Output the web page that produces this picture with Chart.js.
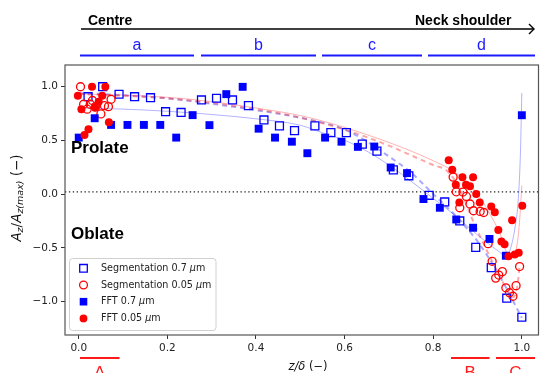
<!DOCTYPE html>
<html>
<head>
<meta charset="utf-8">
<script src="https://cdn.jsdelivr.net/npm/chart.js@4.4.0/dist/chart.umd.min.js"></script>
<style>
html, body { margin: 0; padding: 0; background: #fff; }
</style>
</head>
<body>
<canvas id="profile" width="546" height="373"></canvas>
<script>
// points as [z/delta, Az/Az(max)]
const segCoarse = [[0.021,0.905],[0.054,0.998],[0.091,0.928],[0.126,0.905],[0.162,0.896],[0.196,0.766],[0.231,0.759],
  [0.277,0.875],[0.311,0.891],[0.347,0.875],[0.383,0.822],[0.418,0.689],[0.453,0.634],[0.487,0.590],[0.533,0.634],
  [0.569,0.571],[0.604,0.571],[0.640,0.464],[0.673,0.399],[0.710,0.225],[0.745,0.170],[0.791,-0.011],[0.826,-0.073],
  [0.860,-0.250],[0.896,-0.495],[0.931,-0.684],[0.966,-0.968],[1.000,-1.145]];
const segFine = [[0.004,0.998],[0.011,0.835],[0.019,0.789],[0.026,0.835],[0.031,0.870],[0.038,0.813],[0.050,0.745],
  [0.058,0.822],[0.067,0.813],[0.073,0.881],
  [0.845,0.158],[0.852,0.021],[0.860,-0.127],[0.867,0.019],[0.875,-0.022],[0.883,-0.092],[0.891,-0.155],[0.906,-0.161],
  [0.914,-0.171],[0.924,-0.461],[0.933,-0.625],[0.941,-0.781],[0.948,-0.753],[0.956,-0.721],[0.964,-0.871],
  [0.972,-0.917],[0.980,-0.950],[0.987,-0.851],[0.995,-0.674]];
const fftCoarse = [[0.000,0.525],[0.036,0.705],[0.073,0.643],[0.110,0.643],[0.147,0.643],[0.184,0.643],[0.220,0.525],
  [0.257,0.734],[0.295,0.641],[0.333,0.929],[0.370,0.997],[0.406,0.608],[0.443,0.525],[0.481,0.487],[0.516,0.380],
  [0.556,0.525],[0.593,0.487],[0.630,0.439],[0.667,0.442],[0.704,0.247],[0.741,0.195],[0.778,-0.046],[0.815,-0.127],
  [0.852,-0.236],[0.890,-0.313],[0.927,-0.417],[0.964,-0.573],[1.000,0.733]];
const fftFine = [[-0.002,0.915],[0.006,0.789],[0.013,0.550],[0.022,0.603],[0.030,0.998],[0.037,0.803],[0.045,0.859],
  [0.053,0.915],[0.060,0.998],[0.068,0.668],
  [0.835,0.314],[0.843,0.226],[0.851,0.086],[0.859,-0.078],[0.866,0.156],[0.874,0.086],[0.883,0.072],[0.890,0.156],
  [0.897,0.000],[0.905,-0.078],[0.931,-0.115],[0.939,-0.169],[0.947,-0.334],[0.954,-0.440],[0.961,-0.466],
  [0.970,-0.577],[0.978,-0.243],[0.984,-0.561],[0.993,-0.545],[1.001,-0.109]];

// fitted curves
const fitFftCoarse = [[0,0.80],[0.1,0.79],[0.2,0.77],[0.3,0.74],[0.4,0.70],[0.5,0.64],[0.55,0.57],[0.6,0.50],[0.65,0.40],
  [0.7,0.27],[0.75,0.12],[0.8,-0.04],[0.85,-0.20],[0.9,-0.38],[0.95,-0.54],[0.965,-0.58],[0.975,-0.50],[0.985,-0.30],
  [0.992,-0.05],[0.997,0.40],[1.0,0.94]];
const fitSegCoarse = [[0,0.94],[0.1,0.92],[0.2,0.89],[0.3,0.84],[0.4,0.78],[0.5,0.71],[0.6,0.60],[0.65,0.49],[0.7,0.35],
  [0.75,0.20],[0.8,0.00],[0.85,-0.20],[0.9,-0.44],[0.95,-0.76],[1.0,-1.15]];
const fitFftFine = [[0,0.93],[0.1,0.92],[0.2,0.90],[0.3,0.86],[0.4,0.80],[0.5,0.73],[0.6,0.62],[0.7,0.48],[0.75,0.40],
  [0.8,0.31],[0.85,0.20],[0.9,0.00],[0.93,-0.20],[0.95,-0.36],[0.97,-0.57],[0.98,-0.58],[0.99,-0.45],[0.995,-0.25],[1.0,0.08]];
const fitSegFine = [[0,0.93],[0.2,0.89],[0.4,0.79],[0.5,0.71],[0.6,0.60],[0.7,0.45],[0.75,0.36],[0.8,0.27],[0.83,0.22],
  [0.86,0.05],[0.89,-0.25],[0.93,-0.60],[0.95,-0.76],[0.97,-0.92],[0.98,-0.96],[0.99,-0.85],[0.995,-0.67]];

const xTicks = [0, 0.2, 0.4, 0.6, 0.8, 1.0];
const yTicks = [-1.0, -0.5, 0, 0.5, 1.0];
const refLevel = 0.02;

const BLUE = '#0000ff', RED = '#ff0000';
const pts = arr => arr.map(p => ({x: p[0], y: p[1]}));
const fmt = v => (v < 0 ? '\u2212' : '') + Math.abs(v).toFixed(1);

function marks(label, arr, color, style, filled, order) {
  return {
    label: label, data: pts(arr), order: order,
    pointStyle: style,
    pointRadius: style === 'rect' ? 5.6 : 4,
    borderColor: color,
    backgroundColor: filled ? color : 'rgba(0,0,0,0)',
    borderWidth: filled ? 0 : 1.3,
    showLine: false
  };
}
function fit(arr, color, dash, width, order) {
  return {
    label: '', data: pts(arr), order: order, showLine: true,
    pointRadius: 0, borderColor: color, borderWidth: width, borderDash: dash,
    cubicInterpolationMode: 'monotone', fill: false
  };
}

const legendItems = [
  {text: 'Segmentation 0.7 ', color: BLUE, style: 'rect', filled: false},
  {text: 'Segmentation 0.05 ', color: RED, style: 'circle', filled: false},
  {text: 'FFT 0.7 ', color: BLUE, style: 'rect', filled: true},
  {text: 'FFT 0.05 ', color: RED, style: 'circle', filled: true}
];

function rich(ctx, parts, x, y) {
  // parts: [text, font, dy]; centred on x
  let w = 0;
  parts.forEach(p => { ctx.font = p[1]; w += ctx.measureText(p[0]).width; });
  let cx = x - w / 2;
  parts.forEach(p => {
    ctx.font = p[1];
    ctx.fillText(p[0], cx, y + (p[2] || 0));
    cx += ctx.measureText(p[0]).width;
  });
}

function marker(ctx, it, x, y) {
  ctx.save();
  ctx.strokeStyle = it.color; ctx.fillStyle = it.color; ctx.lineWidth = 1.3;
  ctx.beginPath();
  if (it.style === 'rect') ctx.rect(x - 3.8, y - 3.8, 7.6, 7.6);
  else ctx.arc(x, y, 3.9, 0, Math.PI * 2);
  if (it.filled) ctx.fill(); else ctx.stroke();
  ctx.restore();
}

const decor = {
  id: 'decor',
  beforeDatasetsDraw(chart) {
    const ctx = chart.ctx, a = chart.chartArea, ys = chart.scales.y;
    const py = ys.getPixelForValue(refLevel);
    ctx.save();
    ctx.strokeStyle = '#222'; ctx.lineWidth = 1.2; ctx.setLineDash([1.3, 2.6]);
    ctx.beginPath(); ctx.moveTo(a.left, py); ctx.lineTo(a.right, py); ctx.stroke();
    ctx.restore();
  },
  afterDraw(chart) {
    const ctx = chart.ctx, a = chart.chartArea;
    ctx.save();
    // frame
    ctx.strokeStyle = '#555'; ctx.lineWidth = 1.2;
    ctx.strokeRect(a.left, a.top, a.right - a.left - 0.6, a.bottom - a.top);

    // region labels
    ctx.fillStyle = '#000'; ctx.textBaseline = 'alphabetic';
    ctx.font = 'bold 17px "Liberation Sans"';
    ctx.textAlign = 'left';
    ctx.fillText('Prolate', 71, 153);
    ctx.fillText('Oblate', 71, 239);

    // top arrow
    ctx.font = 'bold 14px "Liberation Sans"';
    ctx.fillText('Centre', 88, 25);
    ctx.fillText('Neck shoulder', 415, 25);
    ctx.strokeStyle = '#000'; ctx.lineWidth = 1.4;
    ctx.beginPath(); ctx.moveTo(81, 29); ctx.lineTo(534, 29); ctx.stroke();
    ctx.beginPath(); ctx.moveTo(529, 24); ctx.lineTo(534, 29); ctx.lineTo(529, 34); ctx.stroke();

    // blue bands
    ctx.strokeStyle = '#1a1aff'; ctx.fillStyle = '#1a1aff'; ctx.lineWidth = 2;
    ctx.font = '16px "Liberation Sans"'; ctx.textAlign = 'center';
    [[80, 194, 'a'], [201, 316, 'b'], [322, 422, 'c'], [428, 535, 'd']].forEach(s => {
      ctx.beginPath(); ctx.moveTo(s[0], 55.5); ctx.lineTo(s[1], 55.5); ctx.stroke();
      ctx.fillText(s[2], (s[0] + s[1]) / 2, 50);
    });

    // red bands
    ctx.strokeStyle = '#ff1a1a'; ctx.fillStyle = '#ff1a1a';
    ctx.font = '17px "Liberation Sans"';
    [[80, 119.5, 'A'], [451, 489.5, 'B'], [496, 535, 'C']].forEach(s => {
      ctx.beginPath(); ctx.moveTo(s[0], 358); ctx.lineTo(s[1], 358); ctx.stroke();
      ctx.fillText(s[2], (s[0] + s[1]) / 2, 378);
    });

    // axis titles
    ctx.fillStyle = '#111'; ctx.textAlign = 'left'; ctx.textBaseline = 'middle';
    const reg = '11.5px "DejaVu Sans"', ita = 'italic 11.5px "DejaVu Sans"';
    rich(ctx, [['z/\u03b4', ita], [' (\u2212)', reg]], 308, 367);
    const yreg = '13.5px "DejaVu Sans"', yita = 'italic 13.5px "DejaVu Sans"';
    const subI = 'italic 9.5px "DejaVu Sans"';
    ctx.translate(17, 198); ctx.rotate(-Math.PI / 2);
    rich(ctx, [['A', yita], ['z', subI, 3.5], ['/', yreg], ['A', yita], ['z(max)', subI, 3.5], [' (\u2212)', yreg]], 0, 0);
    ctx.setTransform(1, 0, 0, 1, 0, 0);

    // legend
    ctx.fillStyle = 'rgba(255,255,255,0.85)'; ctx.strokeStyle = '#d0d0d0'; ctx.lineWidth = 1;
    ctx.beginPath(); ctx.roundRect(69.5, 258.5, 146.5, 72, 3); ctx.fill(); ctx.stroke();
    ctx.textBaseline = 'middle'; ctx.fillStyle = '#222';
    legendItems.forEach((it, i) => {
      const y = 268.3 + i * 16.7;
      marker(ctx, it, 83.5, y);
      ctx.font = '9.6px "DejaVu Sans"';
      ctx.fillText(it.text, 101, y);
      const w = ctx.measureText(it.text).width;
      ctx.font = 'italic 9.6px "DejaVu Sans"';
      ctx.fillText('\u03bc', 101 + w, y);
      const w2 = ctx.measureText('\u03bc').width;
      ctx.font = '9.6px "DejaVu Sans"';
      ctx.fillText('m', 101 + w + w2, y);
    });
    ctx.restore();
  }
};

const tickFont = {family: 'DejaVu Sans', size: 10.5};

new Chart(document.getElementById('profile'), {
  type: 'scatter',
  data: {
    datasets: [
      marks('FFT 0.05 um', fftFine, RED, 'circle', true, 1),
      marks('FFT 0.7 um', fftCoarse, BLUE, 'rect', true, 2),
      marks('Segmentation 0.05 um', segFine, RED, 'circle', false, 3),
      marks('Segmentation 0.7 um', segCoarse, BLUE, 'rect', false, 4),
      fit(fitFftFine, 'rgba(255,0,0,0.3)', [], 1, 5),
      fit(fitFftCoarse, 'rgba(0,0,255,0.3)', [], 1, 6),
      fit(fitSegFine, 'rgba(255,60,60,0.45)', [5, 4], 2, 7),
      fit(fitSegCoarse, 'rgba(60,60,255,0.45)', [5, 4], 2, 8)
    ]
  },
  options: {
    responsive: false,
    animation: false,
    layout: {padding: {top: 65, left: 0, right: 0, bottom: 0}},
    plugins: {legend: {display: false}, tooltip: {enabled: false}},
    scales: {
      x: {
        type: 'linear', min: -0.031, max: 1.039,
        afterFit: s => { s.height = 38; },
        afterBuildTicks: s => { s.ticks = xTicks.map(v => ({value: v})); },
        ticks: {font: tickFont, color: '#222', padding: 3, maxRotation: 0, callback: fmt},
        grid: {display: true, drawOnChartArea: false, drawTicks: true, tickLength: 4, tickColor: '#333'},
        border: {display: false}
      },
      y: {
        type: 'linear', min: -1.31, max: 1.2,
        afterFit: s => { s.width = 65; },
        afterBuildTicks: s => { s.ticks = yTicks.map(v => ({value: v})); },
        ticks: {font: tickFont, color: '#222', padding: 3, callback: fmt},
        grid: {display: true, drawOnChartArea: false, drawTicks: true, tickLength: 4, tickColor: '#333'},
        border: {display: false}
      }
    }
  },
  plugins: [decor]
});
</script>
</body>
</html>
